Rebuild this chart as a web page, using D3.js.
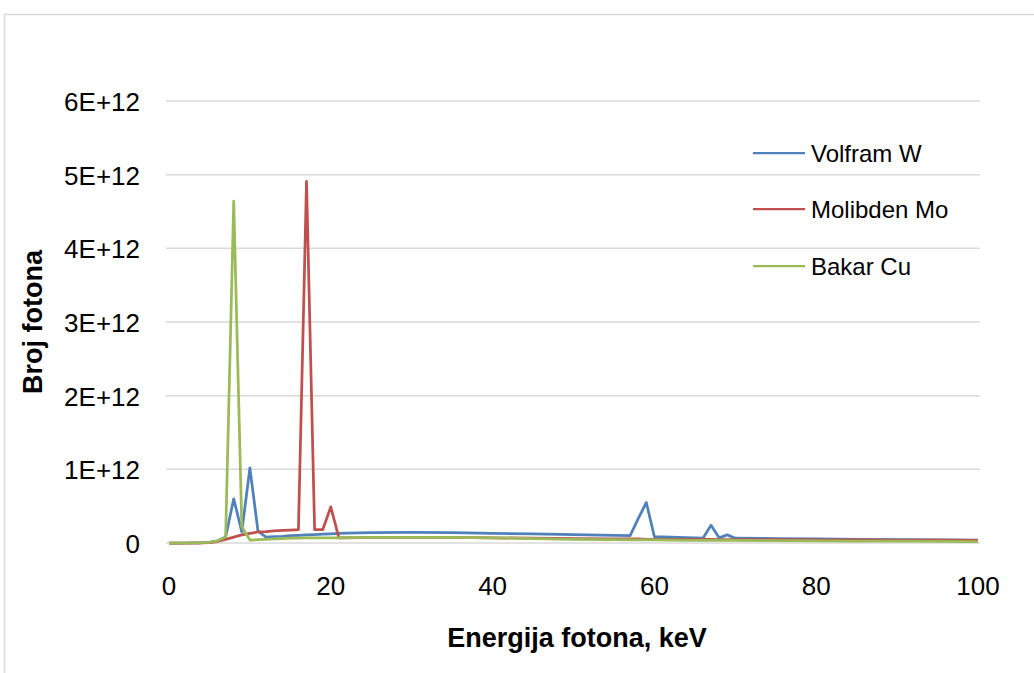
<!DOCTYPE html>
<html><head><meta charset="utf-8">
<script src="https://cdn.jsdelivr.net/npm/d3@7"></script>
<style>html,body{margin:0;padding:0;background:#fff;overflow:hidden}</style>
</head><body>
<svg id="c" width="1034" height="673"></svg>
<script>
const energy = [0,2,4,5,6,7,8,9,10,11,12,13,14,15,16,17,18,19,20,21,22,25,30,35,40,45,50,55,57,58,59,60,62,65,66,67,68,69,70,75,80,85,90,95,100];
const volfram = [0,0,0.005,0.01,0.03,0.08,0.6,0.15,1.02,0.16,0.08,0.085,0.09,0.1,0.105,0.11,0.115,0.12,0.125,0.13,0.135,0.14,0.145,0.14,0.13,0.125,0.115,0.105,0.1,0.33,0.55,0.085,0.08,0.07,0.065,0.24,0.07,0.11,0.065,0.06,0.055,0.05,0.045,0.042,0.04];
const molibden = [0,0,0,0.005,0.02,0.05,0.08,0.11,0.13,0.15,0.155,0.165,0.17,0.175,0.18,4.91,0.18,0.18,0.49,0.07,0.07,0.075,0.075,0.075,0.07,0.065,0.06,0.055,0.055,0.055,0.05,0.05,0.05,0.05,0.048,0.048,0.047,0.047,0.046,0.045,0.043,0.042,0.04,0.038,0.035];
const bakar = [0,0,0.005,0.01,0.03,0.08,4.64,0.22,0.04,0.045,0.05,0.055,0.06,0.065,0.065,0.07,0.07,0.07,0.07,0.07,0.072,0.075,0.075,0.075,0.07,0.06,0.05,0.045,0.044,0.043,0.042,0.041,0.04,0.037,0.036,0.036,0.035,0.035,0.035,0.032,0.03,0.027,0.025,0.022,0.02];
const seriesNames = ["Volfram W","Molibden Mo","Bakar Cu"];
const seriesColors = ["#4F81BD","#C0504D","#9BBB59"];
const xTicks = [0,20,40,60,80,100];
const yTicks = [0,1,2,3,4,5,6];
const yTickLabels = ["0","1E+12","2E+12","3E+12","4E+12","5E+12","6E+12"];

const svg = d3.select("#c");
const font = "'Liberation Sans', Arial, sans-serif";
const fs = 26;
svg.append("rect").attr("x",4.5).attr("y",14.5).attr("width",1200).attr("height",900)
  .attr("fill","#fff").attr("stroke","#D9D9D9").attr("stroke-width",1.5);

const x = d3.scaleLinear().domain([0,100]).range([169,978]);
const y = d3.scaleLinear().domain([0,6]).range([543,101]);

// gridlines
svg.append("g").selectAll("line").data(yTicks).join("line")
  .attr("x1",166).attr("x2",980).attr("y1",d=>y(d)).attr("y2",d=>y(d))
  .attr("stroke","#D9D9D9").attr("stroke-width",1.5);

// y tick labels
svg.append("g").selectAll("text").data(yTicks).join("text")
  .attr("x",140).attr("y",d=>y(d)+10).attr("text-anchor","end")
  .attr("font-family",font).attr("font-size",fs).attr("fill","#000")
  .text((d,i)=>yTickLabels[i]);

// x tick labels
svg.append("g").selectAll("text").data(xTicks).join("text")
  .attr("x",d=>x(d)).attr("y",595).attr("text-anchor","middle")
  .attr("font-family",font).attr("font-size",fs).attr("fill","#000")
  .text(d=>d);

// axis titles
svg.append("text").attr("x",577).attr("y",647).attr("text-anchor","middle")
  .attr("font-family",font).attr("font-size",27).attr("font-weight","bold").text("Energija fotona, keV");
svg.append("text").attr("transform","translate(42,322) rotate(-90)").attr("text-anchor","middle")
  .attr("font-family",font).attr("font-size",27).attr("font-weight","bold").text("Broj fotona");

const data = [volfram, molibden, bakar];
const line = d3.line().x((d,i)=>x(energy[i])).y(d=>y(d));
data.forEach((vals,k)=>{
  svg.append("path").datum(vals).attr("d",line).attr("fill","none")
    .attr("stroke",seriesColors[k]).attr("stroke-width",2.75).attr("stroke-linejoin","round");
});

// legend
const legY = [153,209,266];
seriesNames.forEach((n,k)=>{
  svg.append("line").attr("x1",753).attr("x2",805).attr("y1",legY[k]).attr("y2",legY[k])
    .attr("stroke",seriesColors[k]).attr("stroke-width",2.25);
  svg.append("text").attr("x",811).attr("y",legY[k]+8.5).attr("font-family",font)
    .attr("font-size",24).attr("fill","#000").text(n);
});
</script>
</body></html>
